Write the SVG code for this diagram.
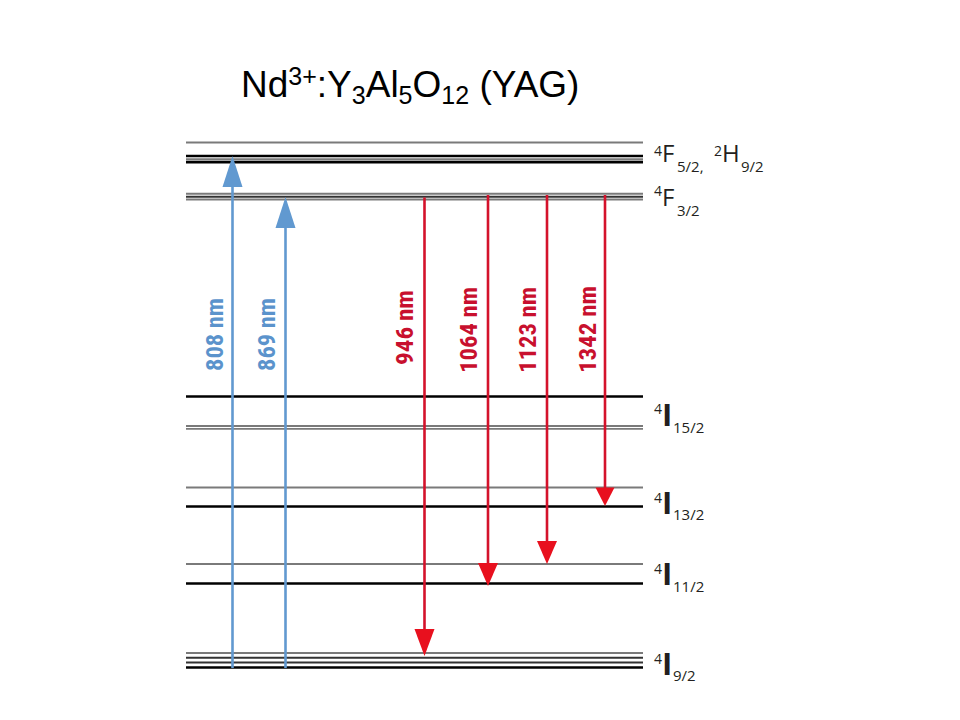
<svg xmlns="http://www.w3.org/2000/svg" width="960" height="720" viewBox="0 0 960 720">
  <style>
    .title { font-family: "Liberation Sans", Arial, sans-serif; font-size: 37px; fill: #000; }
    .lv { stroke-linecap: butt; fill: none; }
    .blk { stroke: #000; stroke-width: 2.7; }
    .dk { stroke: #333; stroke-width: 2; }
    .gr { stroke: #7a7a7a; stroke-width: 1.9; }
    .lbl { font-family: "Open Sans", "Noto Sans", sans-serif; fill: #231f20; }
    .main { font-size: 24px; }
    .mainI { font-size: 31px; font-weight: 700; }
    .ss { font-size: 15px; }
    .sp { font-size: 14px; }
    .pump { stroke: #6199d0; stroke-width: 2.6; fill: none; }
    .pumphead { fill: #6199d0; }
    .emit { stroke: #d4122b; stroke-width: 2.6; fill: none; }
    .emithead { fill: #e8101e; }
    .wl { font-family: "Liberation Sans Narrow", "Roboto Condensed", "DejaVu Sans Condensed", "Liberation Sans", sans-serif; font-weight: bold; font-size: 24px; font-stretch: condensed; }
    .wlb { fill: #5b93cc; }
    .wlr { fill: #c8102e; }
  </style>

  <text id="title" class="title" x="241" y="97">Nd<tspan font-size="25" dy="-12">3+</tspan><tspan dy="12">:Y</tspan><tspan font-size="25" dy="7">3</tspan><tspan dy="-7">Al</tspan><tspan font-size="25" dy="7">5</tspan><tspan dy="-7">O</tspan><tspan font-size="25" dy="7">12</tspan><tspan dy="-7"> (YAG)</tspan></text>

  <g id="level-4F52-2H92">
    <line class="lv gr" x1="186" y1="142.5" x2="643" y2="142.5"/>
    <line class="lv blk" x1="186" y1="156" x2="643" y2="156"/>
    <line class="lv gr" x1="186" y1="159.2" x2="643" y2="159.2" stroke-width="1.4"/>
    <line class="lv blk" x1="186" y1="162.2" x2="643" y2="162.2"/>
    <text class="lbl"><tspan class="sp" x="654" y="156">4</tspan><tspan class="main" x="662" y="162">F</tspan><tspan class="ss" x="677" y="172">5/2,</tspan><tspan class="sp" x="714" y="156">2</tspan><tspan class="main" x="722" y="162">H</tspan><tspan class="ss" x="741" y="172">9/2</tspan></text>
  </g>

  <g id="level-4F32">
    <line class="lv gr" x1="186" y1="193.8" x2="643" y2="193.8"/>
    <line class="lv dk" x1="186" y1="196.7" x2="643" y2="196.7"/>
    <line class="lv gr" x1="186" y1="199.5" x2="643" y2="199.5"/>
    <text class="lbl"><tspan class="sp" x="654" y="196">4</tspan><tspan class="main" x="662" y="206">F</tspan><tspan class="ss" x="677" y="216">3/2</tspan></text>
  </g>

  <g id="level-4I152">
    <line class="lv blk" x1="186" y1="396.5" x2="643" y2="396.5"/>
    <line class="lv gr" x1="186" y1="426" x2="643" y2="426" stroke="#666" stroke-width="1.7"/>
    <line class="lv gr" x1="186" y1="428.9" x2="643" y2="428.9" stroke="#666" stroke-width="1.7"/>
    <text class="lbl"><tspan class="sp" x="654" y="414">4</tspan><tspan class="mainI" x="662" y="426">I</tspan><tspan class="ss" x="673" y="433">15/2</tspan></text>
  </g>

  <g id="level-4I132">
    <line class="lv gr" x1="186" y1="487.5" x2="643" y2="487.5"/>
    <line class="lv blk" x1="186" y1="506.5" x2="643" y2="506.5"/>
    <text class="lbl"><tspan class="sp" x="654" y="503">4</tspan><tspan class="mainI" x="662" y="514">I</tspan><tspan class="ss" x="673" y="520">13/2</tspan></text>
  </g>

  <g id="level-4I112">
    <line class="lv gr" x1="186" y1="564" x2="643" y2="564"/>
    <line class="lv blk" x1="186" y1="583.5" x2="643" y2="583.5"/>
    <text class="lbl"><tspan class="sp" x="654" y="574">4</tspan><tspan class="mainI" x="662" y="585">I</tspan><tspan class="ss" x="673" y="592">11/2</tspan></text>
  </g>

  <g id="level-4I92">
    <line class="lv gr" x1="186" y1="653" x2="643" y2="653" stroke="#666"/>
    <line class="lv dk" x1="186" y1="657.8" x2="643" y2="657.8" stroke="#444"/>
    <line class="lv dk" x1="186" y1="662.6" x2="643" y2="662.6" stroke="#444"/>
    <line class="lv blk" x1="186" y1="667.5" x2="643" y2="667.5" stroke-width="2.2"/>
    <text class="lbl"><tspan class="sp" x="654" y="664">4</tspan><tspan class="mainI" x="662" y="675">I</tspan><tspan class="ss" x="673" y="681">9/2</tspan></text>
  </g>

  <g id="connectors">
    <g id="pump-808">
      <line class="pump" x1="232.5" y1="668" x2="232.5" y2="185"/>
      <polygon class="pumphead" points="232.5,156 222.5,187 242.5,187"/>
      <text class="wl wlb" transform="translate(223,371) rotate(-90)" textLength="73" lengthAdjust="spacingAndGlyphs">808 nm</text>
    </g>
    <g id="pump-869">
      <line class="pump" x1="285.5" y1="668" x2="285.5" y2="226"/>
      <polygon class="pumphead" points="285.5,197 275.5,228 295.5,228"/>
      <text class="wl wlb" transform="translate(275,371) rotate(-90)" textLength="73" lengthAdjust="spacingAndGlyphs">869 nm</text>
    </g>
    <g id="emit-946">
      <line class="emit" x1="424.5" y1="197.5" x2="424.5" y2="631"/>
      <polygon class="emithead" points="424.5,656 414.5,629 434.5,629"/>
      <text class="wl wlr" transform="translate(413,365) rotate(-90)" textLength="75" lengthAdjust="spacingAndGlyphs">946 nm</text>
    </g>
    <g id="emit-1064">
      <line class="emit" x1="488" y1="195" x2="488" y2="565"/>
      <polygon class="emithead" points="488,586 478,563 498,563"/>
      <text class="wl wlr" transform="translate(477,373) rotate(-90)" textLength="86" lengthAdjust="spacingAndGlyphs">1064 nm</text>
    </g>
    <g id="emit-1123">
      <line class="emit" x1="547" y1="195" x2="547" y2="543"/>
      <polygon class="emithead" points="547,564 537,541 557,541"/>
      <text class="wl wlr" transform="translate(536,373) rotate(-90)" textLength="86" lengthAdjust="spacingAndGlyphs">1123 nm</text>
    </g>
    <g id="emit-1342">
      <line class="emit" x1="605" y1="195" x2="605" y2="489"/>
      <polygon class="emithead" points="605,506 595.5,487.5 614.5,487.5"/>
      <text class="wl wlr" transform="translate(595.5,373) rotate(-90)" textLength="87" lengthAdjust="spacingAndGlyphs">1342 nm</text>
    </g>
  </g>
</svg>
